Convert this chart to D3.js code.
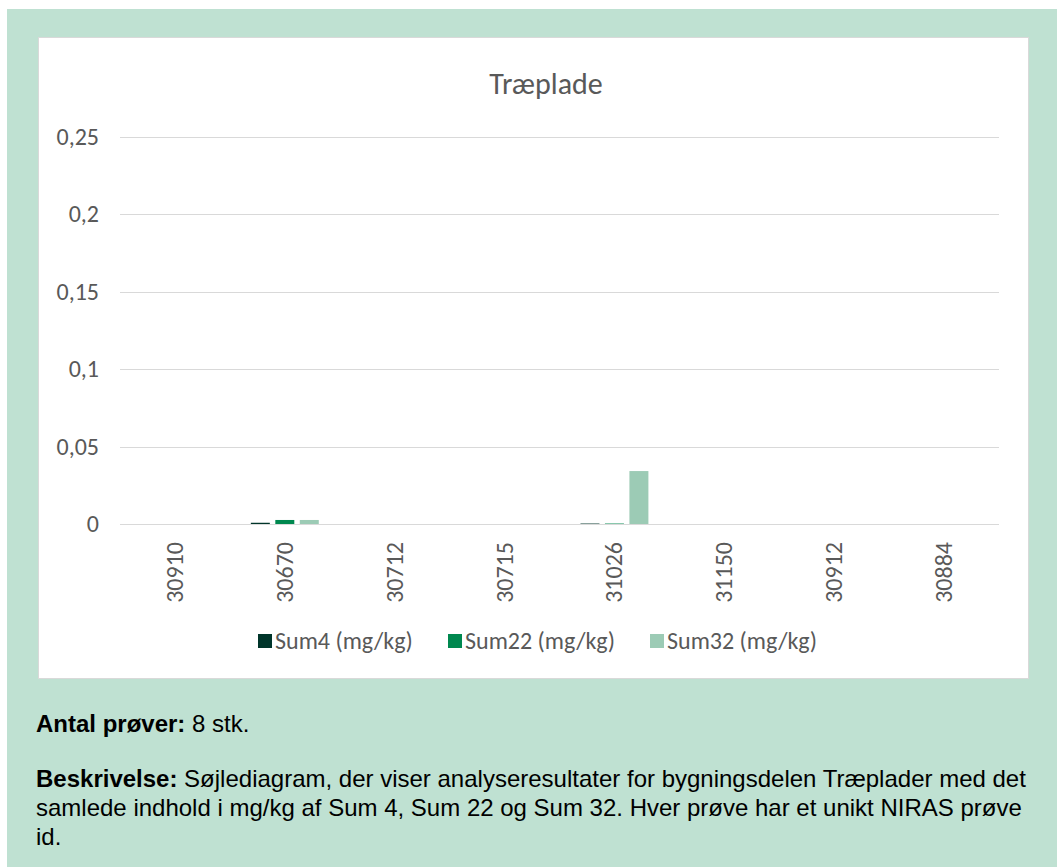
<!DOCTYPE html>
<html><head><meta charset="utf-8">
<script src="https://cdn.jsdelivr.net/npm/d3@7"></script>
<style>
body{margin:0;background:#fff;}
svg{display:block;}
</style></head>
<body>
<svg id="c" width="1057" height="867"></svg>
<script>
const categories = ["30910","30670","30712","30715","31026","31150","30912","30884"];
const seriesNames = ["Sum4 (mg/kg)","Sum22 (mg/kg)","Sum32 (mg/kg)"];
const sum4  = [0, 0.0008, 0, 0, 0.0003, 0, 0, 0];
const sum22 = [0, 0.0026, 0, 0, 0.0003, 0, 0, 0];
const sum32 = [0, 0.0026, 0, 0, 0.0342, 0, 0, 0];
const yTicks = [0, 0.05, 0.1, 0.15, 0.2, 0.25];
const yTickLabels = ["0","0,05","0,1","0,15","0,2","0,25"];
const colors = ["#00352a","#00884f","#9ccbb5"];

const cf = "Carlito, Calibri, 'Open Sans', sans-serif";
const svg = d3.select("#c");
svg.append("rect").attr("x",7).attr("y",9).attr("width",1050).attr("height",858).attr("fill","#bfe1d2");
svg.append("rect").attr("x",38.5).attr("y",37.5).attr("width",990).attr("height",641).attr("fill","#fff").attr("stroke","#d9d9d9");

svg.append("text").attr("x",546).attr("y",94).attr("text-anchor","middle")
  .attr("font-family",cf).attr("font-size",30).attr("fill","#595959").text("Træplade");

const x0 = d3.scaleBand().domain(categories).range([120,999]);
const x1 = d3.scaleBand().domain(seriesNames).range([0,x0.bandwidth()]).paddingInner(0.224).paddingOuter(0.857);
const y = d3.scaleLinear().domain([0,0.25]).range([524,137]);

const g = svg.append("g");
g.selectAll("line.grid").data(yTicks).join("line")
  .attr("x1",120).attr("x2",999).attr("y1",d=>Math.round(y(d))+0.5).attr("y2",d=>Math.round(y(d))+0.5)
  .attr("stroke","#d9d9d9").attr("stroke-width",1);
g.selectAll("text.yl").data(yTicks).join("text")
  .attr("x",99).attr("y",d=>y(d)+8).attr("text-anchor","end")
  .attr("font-family",cf).attr("font-size",24).attr("fill","#595959")
  .text((d,i)=>yTickLabels[i]);

const allSeries = [sum4,sum22,sum32];
allSeries.forEach((arr,si)=>{
  g.selectAll("rect.s"+si).data(arr).join("rect")
    .attr("x",(d,i)=>x0(categories[i])+x1(seriesNames[si]))
    .attr("width",x1.bandwidth())
    .attr("y",d=>y(d))
    .attr("height",d=>y(0)-y(d))
    .attr("fill",colors[si]);
});

g.selectAll("text.xl").data(categories).join("text")
  .attr("transform",d=>`translate(${x0(d)+x0.bandwidth()/2+8},542) rotate(-90)`)
  .attr("text-anchor","end")
  .attr("font-family",cf).attr("font-size",24).attr("fill","#595959")
  .text(d=>d);

// legend
const legX = [258, 448, 650];
seriesNames.forEach((s,i)=>{
  svg.append("rect").attr("x",legX[i]).attr("y",634).attr("width",14).attr("height",14).attr("fill",colors[i]);
  svg.append("text").attr("x",legX[i]+17).attr("y",649)
    .attr("font-family",cf).attr("font-size",24).attr("fill","#595959").text(s);
});

const ff = "'Liberation Sans', Arial, sans-serif";
const t1 = svg.append("text").attr("x",36).attr("y",732).attr("font-family",ff).attr("font-size",24).attr("fill","#000");
t1.append("tspan").attr("font-weight","bold").text("Antal prøver:");
t1.append("tspan").text(" 8 stk.");
const lines = [
  [["Beskrivelse:",true],[" Søjlediagram, der viser analyseresultater for bygningsdelen Træplader med det",false]],
  [["samlede indhold i mg/kg af Sum 4, Sum 22 og Sum 32. Hver prøve har et unikt NIRAS prøve",false]],
  [["id.",false]]
];
lines.forEach((ln,li)=>{
  const t = svg.append("text").attr("x",36).attr("y",787+li*29).attr("font-family",ff).attr("font-size",24).attr("fill","#000");
  ln.forEach(([s,b])=>t.append("tspan").attr("font-weight",b?"bold":"normal").text(s));
});
</script>
</body></html>
